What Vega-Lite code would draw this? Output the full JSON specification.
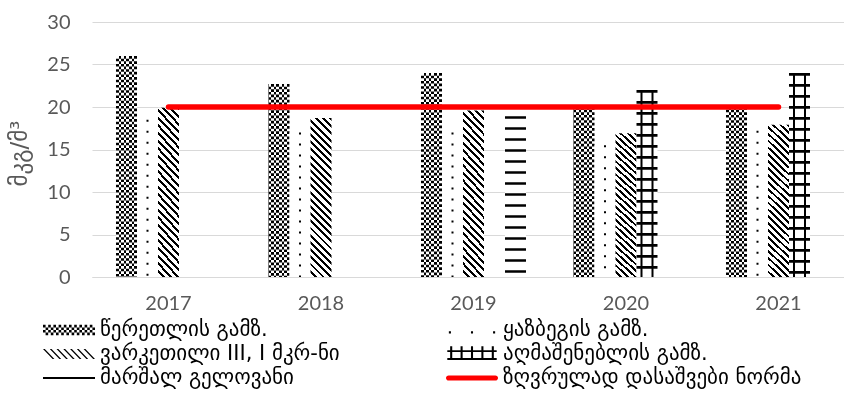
{
  "$schema": "https://vega.github.io/schema/vega-lite/v6.json",
  "width": 752,
  "height": 255,
  "autosize": {"type": "none"},
  "padding": {"left": 92, "top": 22, "right": 0, "bottom": 134},
  "background": "white",
  "config": {"view": {"stroke": null}, "font": "Lato"},
  "data": {
    "values": [
      {"year": "2017", "series": "წერეთლის გამზ.", "value": 26},
      {"year": "2017", "series": "ყაზბეგის გამზ.", "value": 18.5},
      {"year": "2017", "series": "ვარკეთილი III, I მკრ-ნი", "value": 19.9},
      {"year": "2018", "series": "წერეთლის გამზ.", "value": 22.7},
      {"year": "2018", "series": "ყაზბეგის გამზ.", "value": 17},
      {"year": "2018", "series": "ვარკეთილი III, I მკრ-ნი", "value": 18.7},
      {"year": "2019", "series": "წერეთლის გამზ.", "value": 24},
      {"year": "2019", "series": "ყაზბეგის გამზ.", "value": 17},
      {"year": "2019", "series": "ვარკეთილი III, I მკრ-ნი", "value": 19.6},
      {"year": "2019", "series": "მარშალ გელოვანი", "value": 18.9},
      {"year": "2020", "series": "წერეთლის გამზ.", "value": 20},
      {"year": "2020", "series": "ყაზბეგის გამზ.", "value": 15.5},
      {"year": "2020", "series": "ვარკეთილი III, I მკრ-ნი", "value": 16.9},
      {"year": "2020", "series": "აღმაშენებლის გამზ.", "value": 22},
      {"year": "2021", "series": "წერეთლის გამზ.", "value": 20},
      {"year": "2021", "series": "ყაზბეგის გამზ.", "value": 17.2},
      {"year": "2021", "series": "ვარკეთილი III, I მკრ-ნი", "value": 17.9},
      {"year": "2021", "series": "აღმაშენებლის გამზ.", "value": 24},
      {"year": "2017", "series": "ზღვრულად დასაშვები ნორმა", "value": 20},
      {"year": "2018", "series": "ზღვრულად დასაშვები ნორმა", "value": 20},
      {"year": "2019", "series": "ზღვრულად დასაშვები ნორმა", "value": 20},
      {"year": "2020", "series": "ზღვრულად დასაშვები ნორმა", "value": 20},
      {"year": "2021", "series": "ზღვრულად დასაშვები ნორმა", "value": 20}
    ]
  },
  "encoding": {
    "x": {
      "field": "year",
      "type": "nominal",
      "scale": {"paddingInner": 0.31148, "paddingOuter": 0.12131, "align": 0.6486},
      "axis": {
        "title": null,
        "labelAngle": 0,
        "ticks": false,
        "domainColor": "#d9d9d9",
        "domainWidth": 1,
        "labelFont": "Lato",
        "labelFontSize": 20,
        "labelColor": "#595959",
        "labelPadding": 16
      }
    },
    "y": {
      "field": "value",
      "type": "quantitative",
      "scale": {"domain": [0, 30], "nice": false},
      "axis": {
        "values": [0, 5, 10, 15, 20, 25, 30],
        "grid": true,
        "gridColor": "#d9d9d9",
        "gridWidth": 1,
        "domain": false,
        "ticks": false,
        "labelFont": "Lato",
        "labelFontSize": 20,
        "labelColor": "#595959",
        "labelPadding": 22,
        "title": "მკგ/მ³",
        "titleFont": "DejaVu Sans",
        "titleFontSize": 23,
        "titleFontWeight": "normal",
        "titleColor": "#595959",
        "titleAngle": -90,
        "titleAlign": "center",
        "titleBaseline": "middle",
        "titleX": -73,
        "titleY": 131
      }
    }
  },
  "layer": [
    {
      "transform": [{"filter": {"field": "series", "equal": "წერეთლის გამზ."}}],
      "mark": {
        "type": "bar",
        "fill": {
          "gradient": "linear", "x1": 0, "y1": 0, "x2": 1, "y2": 0,
          "stops": [
            {"offset": 0, "color": "black"}, {"offset": 0.125, "color": "black"},
            {"offset": 0.125, "color": "white"}, {"offset": 0.25, "color": "white"},
            {"offset": 0.25, "color": "black"}, {"offset": 0.375, "color": "black"},
            {"offset": 0.375, "color": "white"}, {"offset": 0.5, "color": "white"},
            {"offset": 0.5, "color": "black"}, {"offset": 0.625, "color": "black"},
            {"offset": 0.625, "color": "white"}, {"offset": 0.75, "color": "white"},
            {"offset": 0.75, "color": "black"}, {"offset": 0.875, "color": "black"},
            {"offset": 0.875, "color": "white"}, {"offset": 1, "color": "white"}
          ]
        }
      },
      "encoding": {
        "xOffset": {"field": "series", "type": "nominal", "scale": {"domain": ["წერეთლის გამზ.", "ყაზბეგის გამზ.", "ვარკეთილი III, I მკრ-ნი", "აღმაშენებლის გამზ.", "მარშალ გელოვანი"], "paddingInner": 0, "paddingOuter": 0}}
      }
    },
    {
      "transform": [{"filter": {"field": "series", "equal": "წერეთლის გამზ."}}],
      "mark": {"type": "rule", "color": "white", "strokeWidth": 21, "strokeDash": [2.625, 2.625], "blend": "difference"},
      "encoding": {
        "xOffset": {"field": "series", "type": "nominal"},
        "y2": {"datum": 0}
      }
    },
    {
      "transform": [{"filter": {"field": "series", "equal": "ყაზბეგის გამზ."}}],
      "mark": {"type": "bar", "fill": "white"},
      "encoding": {"xOffset": {"field": "series", "type": "nominal"}}
    },
    {
      "transform": [{"filter": {"field": "series", "equal": "ყაზბეგის გამზ."}}],
      "mark": {"type": "rule", "color": "black", "strokeWidth": 2, "strokeDash": [2, 9]},
      "encoding": {
        "xOffset": {"field": "series", "type": "nominal"},
        "y2": {"datum": 0}
      }
    },
    {
      "transform": [{"filter": {"field": "series", "equal": "ვარკეთილი III, I მკრ-ნი"}}],
      "mark": {
        "type": "bar",
        "fill": {
          "gradient": "linear", "x1": 1, "y1": 0, "x2": 0.853, "y2": 1.1127,
          "stops": [
            {"offset": 0, "color": "black"}, {"offset": 0.016, "color": "black"}, {"offset": 0.016, "color": "white"}, {"offset": 0.04, "color": "white"},
            {"offset": 0.04, "color": "black"}, {"offset": 0.056, "color": "black"}, {"offset": 0.056, "color": "white"}, {"offset": 0.08, "color": "white"},
            {"offset": 0.08, "color": "black"}, {"offset": 0.096, "color": "black"}, {"offset": 0.096, "color": "white"}, {"offset": 0.12, "color": "white"},
            {"offset": 0.12, "color": "black"}, {"offset": 0.136, "color": "black"}, {"offset": 0.136, "color": "white"}, {"offset": 0.16, "color": "white"},
            {"offset": 0.16, "color": "black"}, {"offset": 0.176, "color": "black"}, {"offset": 0.176, "color": "white"}, {"offset": 0.2, "color": "white"},
            {"offset": 0.2, "color": "black"}, {"offset": 0.216, "color": "black"}, {"offset": 0.216, "color": "white"}, {"offset": 0.24, "color": "white"},
            {"offset": 0.24, "color": "black"}, {"offset": 0.256, "color": "black"}, {"offset": 0.256, "color": "white"}, {"offset": 0.28, "color": "white"},
            {"offset": 0.28, "color": "black"}, {"offset": 0.296, "color": "black"}, {"offset": 0.296, "color": "white"}, {"offset": 0.32, "color": "white"},
            {"offset": 0.32, "color": "black"}, {"offset": 0.336, "color": "black"}, {"offset": 0.336, "color": "white"}, {"offset": 0.36, "color": "white"},
            {"offset": 0.36, "color": "black"}, {"offset": 0.376, "color": "black"}, {"offset": 0.376, "color": "white"}, {"offset": 0.4, "color": "white"},
            {"offset": 0.4, "color": "black"}, {"offset": 0.416, "color": "black"}, {"offset": 0.416, "color": "white"}, {"offset": 0.44, "color": "white"},
            {"offset": 0.44, "color": "black"}, {"offset": 0.456, "color": "black"}, {"offset": 0.456, "color": "white"}, {"offset": 0.48, "color": "white"},
            {"offset": 0.48, "color": "black"}, {"offset": 0.496, "color": "black"}, {"offset": 0.496, "color": "white"}, {"offset": 0.52, "color": "white"},
            {"offset": 0.52, "color": "black"}, {"offset": 0.536, "color": "black"}, {"offset": 0.536, "color": "white"}, {"offset": 0.56, "color": "white"},
            {"offset": 0.56, "color": "black"}, {"offset": 0.576, "color": "black"}, {"offset": 0.576, "color": "white"}, {"offset": 0.6, "color": "white"},
            {"offset": 0.6, "color": "black"}, {"offset": 0.616, "color": "black"}, {"offset": 0.616, "color": "white"}, {"offset": 0.64, "color": "white"},
            {"offset": 0.64, "color": "black"}, {"offset": 0.656, "color": "black"}, {"offset": 0.656, "color": "white"}, {"offset": 0.68, "color": "white"},
            {"offset": 0.68, "color": "black"}, {"offset": 0.696, "color": "black"}, {"offset": 0.696, "color": "white"}, {"offset": 0.72, "color": "white"},
            {"offset": 0.72, "color": "black"}, {"offset": 0.736, "color": "black"}, {"offset": 0.736, "color": "white"}, {"offset": 0.76, "color": "white"},
            {"offset": 0.76, "color": "black"}, {"offset": 0.776, "color": "black"}, {"offset": 0.776, "color": "white"}, {"offset": 0.8, "color": "white"},
            {"offset": 0.8, "color": "black"}, {"offset": 0.816, "color": "black"}, {"offset": 0.816, "color": "white"}, {"offset": 0.84, "color": "white"},
            {"offset": 0.84, "color": "black"}, {"offset": 0.856, "color": "black"}, {"offset": 0.856, "color": "white"}, {"offset": 0.88, "color": "white"},
            {"offset": 0.88, "color": "black"}, {"offset": 0.896, "color": "black"}, {"offset": 0.896, "color": "white"}, {"offset": 0.92, "color": "white"},
            {"offset": 0.92, "color": "black"}, {"offset": 0.936, "color": "black"}, {"offset": 0.936, "color": "white"}, {"offset": 0.96, "color": "white"},
            {"offset": 0.96, "color": "black"}, {"offset": 0.976, "color": "black"}, {"offset": 0.976, "color": "white"}, {"offset": 1, "color": "white"}
          ]
        }
      },
      "encoding": {"xOffset": {"field": "series", "type": "nominal"}}
    },
    {
      "transform": [{"filter": {"field": "series", "equal": "აღმაშენებლის გამზ."}}],
      "mark": {"type": "bar", "fill": "white"},
      "encoding": {"xOffset": {"field": "series", "type": "nominal"}}
    },
    {
      "transform": [{"filter": {"field": "series", "equal": "აღმაშენებლის გამზ."}}],
      "mark": {"type": "rule", "color": "black", "strokeWidth": 13},
      "encoding": {"xOffset": {"field": "series", "type": "nominal"}, "y2": {"datum": 0}}
    },
    {
      "transform": [{"filter": {"field": "series", "equal": "აღმაშენებლის გამზ."}}],
      "mark": {"type": "rule", "color": "white", "strokeWidth": 9},
      "encoding": {"xOffset": {"field": "series", "type": "nominal"}, "y2": {"datum": 0}}
    },
    {
      "transform": [{"filter": {"field": "series", "equal": "აღმაშენებლის გამზ."}}],
      "mark": {"type": "rule", "color": "black", "strokeWidth": 21, "strokeDash": [2.7, 8.3]},
      "encoding": {"xOffset": {"field": "series", "type": "nominal"}, "y2": {"datum": 0}}
    },
    {
      "transform": [{"filter": {"field": "series", "equal": "მარშალ გელოვანი"}}],
      "mark": {"type": "bar", "fill": "white"},
      "encoding": {"xOffset": {"field": "series", "type": "nominal"}}
    },
    {
      "transform": [{"filter": {"field": "series", "equal": "მარშალ გელოვანი"}}],
      "mark": {"type": "rule", "color": "black", "strokeWidth": 21, "strokeDash": [2.5, 8.5]},
      "encoding": {"xOffset": {"field": "series", "type": "nominal"}, "y2": {"datum": 0}}
    },
    {
      "transform": [{"filter": {"field": "series", "equal": "ზღვრულად დასაშვები ნორმა"}}],
      "mark": {"type": "line", "color": "#ff0000", "strokeWidth": 5.5, "strokeCap": "round"},
      "encoding": {}
    },
    {
      "mark": {"type": "point", "filled": true, "opacity": 0},
      "encoding": {
        "shape": {
          "field": "series",
          "type": "nominal",
          "scale": {
            "domain": ["წერეთლის გამზ.", "ვარკეთილი III, I მკრ-ნი", "მარშალ გელოვანი", "ყაზბეგის გამზ.", "აღმაშენებლის გამზ.", "ზღვრულად დასაშვები ნორმა"],
            "range": [
              "M-1,-0.2h0.1v0.1h-0.1zM-0.8,-0.2h0.1v0.1h-0.1zM-0.6,-0.2h0.1v0.1h-0.1zM-0.4,-0.2h0.1v0.1h-0.1zM-0.2,-0.2h0.1v0.1h-0.1zM0,-0.2h0.1v0.1h-0.1zM0.2,-0.2h0.1v0.1h-0.1zM0.4,-0.2h0.1v0.1h-0.1zM0.6,-0.2h0.1v0.1h-0.1zM0.8,-0.2h0.1v0.1h-0.1zM-0.9,-0.1h0.1v0.1h-0.1zM-0.7,-0.1h0.1v0.1h-0.1zM-0.5,-0.1h0.1v0.1h-0.1zM-0.3,-0.1h0.1v0.1h-0.1zM-0.1,-0.1h0.1v0.1h-0.1zM0.1,-0.1h0.1v0.1h-0.1zM0.3,-0.1h0.1v0.1h-0.1zM0.5,-0.1h0.1v0.1h-0.1zM0.7,-0.1h0.1v0.1h-0.1zM0.9,-0.1h0.1v0.1h-0.1zM-1,0h0.1v0.1h-0.1zM-0.8,0h0.1v0.1h-0.1zM-0.6,0h0.1v0.1h-0.1zM-0.4,0h0.1v0.1h-0.1zM-0.2,0h0.1v0.1h-0.1zM0,0h0.1v0.1h-0.1zM0.2,0h0.1v0.1h-0.1zM0.4,0h0.1v0.1h-0.1zM0.6,0h0.1v0.1h-0.1zM0.8,0h0.1v0.1h-0.1zM-0.9,0.1h0.1v0.1h-0.1zM-0.7,0.1h0.1v0.1h-0.1zM-0.5,0.1h0.1v0.1h-0.1zM-0.3,0.1h0.1v0.1h-0.1zM-0.1,0.1h0.1v0.1h-0.1zM0.1,0.1h0.1v0.1h-0.1zM0.3,0.1h0.1v0.1h-0.1zM0.5,0.1h0.1v0.1h-0.1zM0.7,0.1h0.1v0.1h-0.1zM0.9,0.1h0.1v0.1h-0.1z",
              "M-1,-0.19h0.07l0.37,0.38h-0.07zM-0.74,-0.19h0.07l0.37,0.38h-0.07zM-0.48,-0.19h0.07l0.37,0.38h-0.07zM-0.22,-0.19h0.07l0.37,0.38h-0.07zM0.04,-0.19h0.07l0.37,0.38h-0.07zM0.3,-0.19h0.07l0.37,0.38h-0.07zM0.56,-0.19h0.07l0.37,0.38h-0.07z",
              "M-1,-0.04H1V0.04H-1Z",
              "M-0.89,0.05h0.08v0.08h-0.08zM-0.04,0.05h0.08v0.08h-0.08zM0.81,0.05h0.08v0.08h-0.08z",
              "M-0.95,-0.14H0.95V-0.08H-0.95ZM-0.95,0.15H0.95V0.23H-0.95ZM-0.84,-0.3h0.08v0.53h-0.08zM-0.44,-0.3h0.08v0.53h-0.08zM-0.04,-0.3h0.08v0.53h-0.08zM0.36,-0.3h0.08v0.53h-0.08zM0.76,-0.3h0.08v0.53h-0.08z",
              "M-0.9,-0.1H0.9A0.1,0.1 0 0 1 0.9,0.1H-0.9A0.1,0.1 0 0 1 -0.9,-0.1Z"
            ]
          },
          "legend": {
            "title": null,
            "orient": "none",
            "legendX": -49,
            "legendY": 296,
            "columns": 2,
            "columnPadding": 106,
            "rowPadding": 0,
            "padding": 0,
            "clipHeight": 24,
            "symbolSize": 2704,
            "symbolOpacity": 1,
            "symbolStrokeWidth": 0,
            "labelFont": "DejaVu Sans",
            "labelFontSize": 21,
            "labelColor": "black",
            "labelOffset": 5,
            "labelLimit": 420
          }
        },
        "color": {
          "field": "series",
          "type": "nominal",
          "scale": {
            "domain": ["წერეთლის გამზ.", "ვარკეთილი III, I მკრ-ნი", "მარშალ გელოვანი", "ყაზბეგის გამზ.", "აღმაშენებლის გამზ.", "ზღვრულად დასაშვები ნორმა"],
            "range": ["#000000", "#000000", "#000000", "#000000", "#000000", "#ff0000"]
          }
        }
      }
    }
  ]
}
